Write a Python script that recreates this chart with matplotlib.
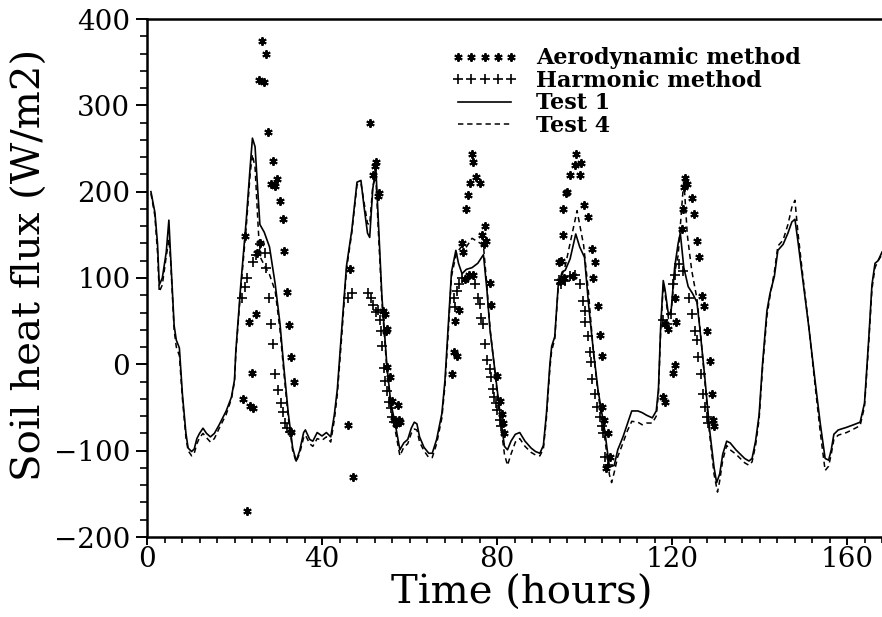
import matplotlib
matplotlib.use("Agg")
import matplotlib.pyplot as plt
from matplotlib.ticker import MultipleLocator

# ---------------- data ----------------
test1_h = [0.9, 1.8, 2.4, 2.8, 3.5, 4.4, 5.0, 5.4, 6.2, 6.7, 7.4, 8.1, 8.9, 9.4, 10.2, 10.8, 11.4, 12.0, 12.8, 13.6,
           14.5, 15.4, 16.5, 18.1, 19.3, 20.0, 20.3, 21.4, 22.7, 23.6, 24.1, 24.7, 25.4, 25.8, 26.8, 28.0, 29.3, 30.4,
           31.2, 32.3, 33.3, 34.1, 34.9, 35.8, 36.2, 37.2, 37.9, 38.9, 40.0, 41.0, 42.0, 42.8, 43.5, 44.5, 45.6, 46.8,
           48.0, 48.9, 49.6, 50.4, 50.9, 51.6, 52.3, 52.9, 53.7, 54.8, 55.7, 56.7, 57.8, 58.7, 59.6, 60.4, 61.1, 61.7,
           62.3, 63.3, 64.4, 65.2, 66.2, 67.4, 68.1, 68.8, 69.6, 70.6, 71.2, 72.0, 73.0, 74.3, 75.6, 76.9, 77.7, 78.4,
           79.5, 80.7, 81.7, 82.4, 83.2, 84.2, 85.2, 86.4, 87.8, 88.8, 89.8, 90.6, 91.3, 92.1, 92.5, 93.2, 94.0, 94.9,
           95.6, 96.7, 98.0, 98.9, 100.0, 100.9, 102.0, 103.1, 104.6, 105.7, 106.8, 107.6, 108.8, 109.8, 110.8, 112.2,
           113.2, 114.2, 115.5, 116.4, 116.9, 117.4, 118.0, 118.4, 119.2, 119.8, 120.6, 121.4, 121.9, 122.7, 123.7,
           124.7, 125.7, 126.4, 127.5, 128.6, 129.6, 130.2, 130.9, 131.6, 132.5, 133.3, 134.6, 135.6, 136.6, 137.6,
           138.3, 139.1, 139.9, 140.7, 141.7, 142.4, 143.4, 144.2, 145.4, 146.5, 147.4, 148.1, 148.8, 149.8, 151.3,
           152.7, 153.9, 155.0, 155.8, 156.4, 157.0, 158.0, 159.9, 161.5, 163.0, 164.0, 164.6, 165.0, 165.7, 166.4,
           167.1, 168.0]
test1_g = [200, 176, 140, 92, 100, 130, 167, 125, 45, 28, 19, -35, -80, -97, -101, -98, -86, -80, -74, -80,
           -84, -80, -70, -54, -38, -18, 15, 90, 168, 230, 262, 252, 196, 162, 153, 136, 93, 47,
           1, -57, -97, -112, -100, -79, -76, -87, -89, -79, -83, -79, -84, -59, -29, 40, 114, 155,
           211, 213, 183, 152, 147, 203, 228, 163, 78, 1, -44, -68, -99, -91, -87, -74, -67, -69,
           -84, -96, -103, -103, -87, -57, -19, 40, 107, 132, 117, 105, 110, 112, 117, 127, 86, 40,
           -6, -57, -95, -99, -89, -81, -79, -89, -97, -101, -103, -94, -57, 1, 21, 32, 92, 107,
           109, 122, 151, 136, 124, 71, 17, -30, -76, -119, -117, -99, -84, -69, -54, -54,
           -56, -59, -62, -54, -29, 42, 97, 87, 57, 62, 112, 140, 152, 112, 90,
           82, 72, 40, -15, -76, -119, -137, -127, -104, -89, -91, -99, -104, -109, -112,
           -109, -89, -59, 1, 62, 82, 102, 132, 139, 152, 165, 168, 142, 102, 42,
           -19, -69, -109, -111, -99, -81, -76, -73, -70, -67, -45, 1, 32, 92, 117,
           120, 130]

test4_h = [0.9, 1.8, 2.4, 2.8, 3.5, 4.4, 5.0, 5.4, 6.2, 6.7, 7.4, 8.1, 8.9, 9.4, 10.2, 10.8, 11.4, 12.0, 12.8, 13.6,
           14.5, 15.4, 16.5, 18.1, 19.3, 20.0, 20.3, 21.4, 22.7, 23.6, 24.1, 24.7, 25.4, 25.8, 26.8, 28.0, 29.3, 30.4,
           31.2, 32.3, 33.3, 34.1, 34.9, 35.8, 36.2, 37.2, 37.9, 38.9, 40.0, 41.0, 42.0, 42.8, 43.5, 44.5, 45.6, 46.8,
           48.0, 48.9, 49.6, 50.4, 50.9, 51.6, 52.3, 52.9, 53.7, 54.8, 55.7, 56.7, 57.8, 58.7, 59.6, 60.4, 61.1, 61.7,
           62.3, 63.3, 64.4, 65.2, 66.2, 67.4, 68.1, 68.8, 69.6, 70.6, 71.2, 72.0, 73.0, 74.3, 75.6, 76.9, 77.7, 78.4,
           79.5, 80.7, 81.7, 82.4, 83.2, 84.2, 85.2, 86.4, 87.8, 88.8, 89.8, 90.6, 91.3, 92.1, 92.5, 93.2, 94.0, 94.9,
           95.6, 96.7, 98.3, 98.9, 99.8, 100.9, 102.0, 103.1, 104.6, 105.7, 106.2, 106.8, 107.6, 108.8, 109.8, 110.8,
           112.2, 113.2, 114.2, 115.5, 116.4, 116.9, 117.4, 118.0, 118.4, 119.2, 119.8, 120.6, 121.4, 121.9, 122.7,
           123.5, 124.5, 125.7, 126.4, 127.5, 128.6, 129.6, 130.4, 130.9, 131.6, 132.5, 133.3, 134.6, 135.6, 136.6,
           137.6, 138.3, 139.1, 139.9, 140.7, 141.7, 142.4, 143.4, 144.2, 145.4, 146.5, 147.4, 148.1, 148.8, 149.8,
           151.3, 152.7, 153.9, 155.0, 155.8, 156.4, 157.0, 158.0, 159.9, 161.5, 163.0, 164.0, 164.6, 165.0, 165.7,
           166.4, 167.1, 168.0]
test4_g = [198, 172, 130, 84, 92, 125, 145, 120, 40, 20, 10, -40, -85, -100, -106, -103, -92, -85, -80, -85,
           -90, -86, -74, -58, -40, -20, 12, 85, 160, 222, 243, 228, 160, 125, 115, 104, 85, 40,
           -5, -62, -100, -113, -103, -85, -82, -92, -95, -86, -88, -84, -90, -65, -35, 32, 110, 152,
           208, 210, 188, 163, 162, 206, 218, 152, 72, -4, -50, -75, -106, -96, -92, -80, -75, -76,
           -90, -100, -108, -108, -92, -62, -25, 32, 102, 126, 132, 137, 136, 146, 142, 138, 90, 42,
           -8, -64, -104, -117, -104, -90, -86, -95, -102, -105, -106, -98, -62, -4, 16, 29, 90, 104,
           114, 140, 178, 162, 138, 84, 16, -34, -84, -128, -137, -125, -107, -91, -77, -66,
           -67, -70, -68, -68, -60, -34, 37, 92, 82, 53, 60, 106, 126, 160, 214,
           150, 109, 76, 42, -19, -81, -127, -148, -135, -111, -94, -99, -104, -109, -114,
           -117, -113, -94, -64, -4, 56, 79, 107, 137, 144, 162, 182, 190, 152, 107,
           42, -24, -79, -123, -118, -104, -87, -82, -79, -75, -71, -49, -4, 27, 87,
           112, 120, 127]

aero_h = [22.0, 22.4, 22.8, 23.4, 23.5, 23.9, 24.3, 24.8, 25.1, 25.8, 25.6, 26.2, 26.8, 27.3, 27.7, 28.3, 28.8,
          29.3, 29.8, 30.5, 31.0, 31.4, 31.9, 32.4, 33.0, 33.5, 32.8,
          45.9, 46.3, 47.0, 50.9, 51.7, 52.2, 52.4, 52.7, 53.0, 54.0, 54.4, 54.6, 54.8, 54.9, 55.6, 56.1, 56.5,
          56.9, 57.3, 57.6, 57.8,
          69.8, 70.1, 70.4, 70.8, 71.2, 71.9, 72.3, 72.7, 72.9, 73.3, 73.6, 73.8, 74.2, 74.4, 74.6, 75.3, 76.0,
          76.6, 77.0, 77.2, 77.5, 78.3, 78.7, 79.9, 80.7, 81.1, 81.4, 81.7,
          94.1, 94.4, 94.7, 95.0, 95.0, 95.4, 95.7, 96.0, 96.7, 97.3, 97.8, 98.0, 98.9, 99.2, 99.9, 100.9, 101.6,
          102.0, 102.4, 103.0, 103.5, 104.0, 104.1, 104.5, 105.4, 105.8, 105.0,
          123.0, 123.5, 122.7, 124.5, 125.1, 122.4, 122.3, 125.6, 126.1, 126.8, 127.3, 128.1, 128.6, 129.2, 129.4,
          129.7, 120.6, 121.0, 118.3, 119.1, 120.6, 120.3, 118.0, 118.5]
aero_g = [-40, 149, -170, 49, -48, -10, -50, 58, 129, 141, 329, 374, 327, 359, 269, 209, 235,
          206, 215, 189, 168, 131, 84, 45, 8, -20, -78,
          -70, 110, -131, 279, 219, 230, 234, 195, 199, 62, 58, 39, 41, -3, -15, -43, -65,
          -69, -47, -64, -67,
          -11, 14, 50, 10, 63, 140, 130, 99, 180, 196, 103, 210, 244, 234, 104, 217, 210,
          150, 139, 160, 143, 94, 69, -14, -42, -57, -68, -80,
          118, 97, 120, 150, 180, 100, 199, 200, 219, 102, 231, 244, 219, 233, 185, 171, 134,
          100, 118, 68, 34, 10, -49, -64, -80, -107, -120,
          216, 209, 205, 193, 174, 180, 157, 143, 124, 79, 68, 39, 4, -34, -64,
          -72, 77, 49, 47, 41, -1, -10, -38, -44]

harm_h = [21.7, 22.4, 22.8, 24.2, 24.8, 25.8, 26.9, 27.3, 27.9, 28.4, 28.8, 29.2, 30.0, 30.6, 31.0, 31.5, 31.9, 32.7,
          45.9, 46.9, 50.6, 51.1, 51.7, 52.3, 52.8, 53.2, 53.5, 53.8, 54.1, 54.5, 54.9, 55.3, 55.7, 56.1, 56.5,
          70.1, 70.4, 70.8, 71.2, 71.9, 73.4, 74.9, 75.7, 76.0, 76.4, 76.8, 77.2, 77.6, 78.3, 78.7, 79.1, 79.4,
          79.8, 80.1, 80.6, 81.0,
          94.1, 94.7, 95.6, 96.7, 97.8, 98.9, 99.7, 100.0, 100.2, 100.8, 101.3, 101.5, 101.8, 102.4, 102.8, 103.5,
          104.0, 104.3, 104.6, 105.4,
          118.0, 118.8, 119.7, 120.2, 120.6, 121.5, 122.6, 123.8, 124.5, 125.3, 125.6, 126.0, 126.6, 127.1, 127.5,
          127.9, 128.3]
harm_g = [77, 89, 100, 119, 127, 139, 129, 112, 77, 47, 24, -11, -30, -45, -55, -68, -74, -78,
          77, 83, 83, 77, 69, 61, 63, 51, 39, 21, -4, -19, -31, -44, -51, -61, -67,
          77, 66, 85, 93, 100, 100, 93, 77, 70, 54, 47, 24, 5, -5, -15, -28, -38,
          -45, -53, -65, -72,
          98, 93, 96, 102, 104, 93, 73, 62, 49, 33, 14, 3, -17, -34, -49, -61,
          -72, -80, -107, -117,
          51, 47, 58, 93, 104, 116, 108, 77, 58, 39, 28, 9, -11, -34, -49,
          -61, -68]

series_labels = ["Aerodynamic method", "Harmonic method", "Test 1", "Test 4"]
x_ticks = [0, 40, 80, 120, 160]
y_ticks = [-200, -100, 0, 100, 200, 300, 400]

# ---------------- figure ----------------
W, H = 882, 617
fig = plt.figure(figsize=(W / 100, H / 100), dpi=100)
ax = fig.add_axes([147 / W, 80 / H, 735 / W, 518 / H])

serif = "DejaVu Serif"

aero_marker = (6, 2, 0)
ax.plot(aero_h, aero_g, linestyle="none", marker=aero_marker, markersize=6,
        markeredgewidth=1.4, color="black", label=series_labels[0])
ax.plot(harm_h, harm_g, linestyle="none", marker="+", markersize=7.5,
        markeredgewidth=1.2, color="black", label=series_labels[1])
ax.plot(test1_h, test1_g, linestyle="-", linewidth=1.2, color="black", label=series_labels[2])
ax.plot(test4_h, test4_g, linestyle=(0, (3.5, 2.5)), linewidth=1.1, color="black", label=series_labels[3])

ax.set_xlim(0, 168)
ax.set_ylim(-200, 400)
ax.set_xticks(x_ticks)
ax.set_yticks(y_ticks)
ax.xaxis.set_minor_locator(MultipleLocator(4))
ax.yaxis.set_minor_locator(MultipleLocator(20))

ax.tick_params(axis="both", which="major", direction="out", width=1.4, labelsize=20, color="black")
ax.tick_params(axis="both", which="minor", direction="out", width=1.2, color="black")
ax.tick_params(axis="y", which="major", length=8, pad=4)
ax.tick_params(axis="y", which="minor", length=5)
ax.tick_params(axis="x", which="major", length=5.5, pad=1)
ax.tick_params(axis="x", which="minor", length=4.5)
for lab in ax.get_xticklabels() + ax.get_yticklabels():
    lab.set_fontfamily(serif)

for side in ["left", "bottom", "top"]:
    ax.spines[side].set_linewidth(1.8)
ax.spines["right"].set_visible(False)

ax.set_xlabel("Time (hours)", fontsize=29, family=serif, labelpad=0)
ax.xaxis.set_label_coords(0.51, -0.0734)
ax.set_ylabel("Soil heat flux (W/m2)", fontsize=29, family=serif)
ax.yaxis.set_label_coords(-0.134, 0.525)

leg = ax.legend(loc="upper left", bbox_to_anchor=(0.414, 0.945), frameon=False,
                numpoints=5, handlelength=3.0, handletextpad=0.8, labelspacing=0.02,
                borderpad=0, borderaxespad=0,
                prop={"family": serif, "weight": "bold", "size": 16})

fig.savefig("out.png", dpi=100)
